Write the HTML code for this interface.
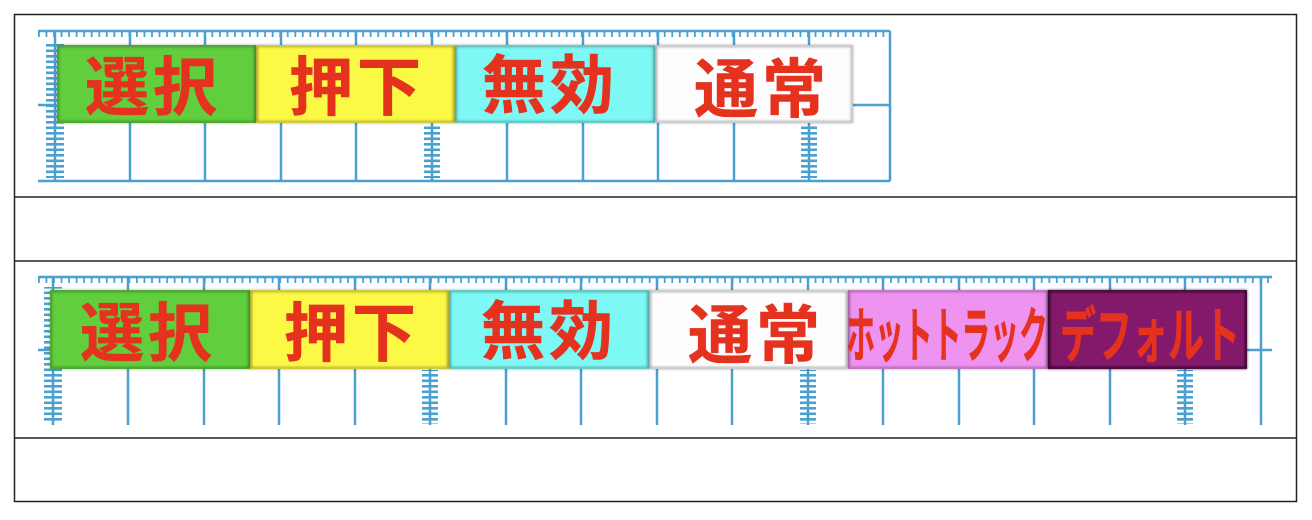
<!DOCTYPE html>
<html><head><meta charset="utf-8"><style>
body{margin:0;background:#fff;width:1312px;height:520px;overflow:hidden}
svg{display:block}
.k{font-family:"Liberation Sans","Noto Sans CJK JP",sans-serif;font-weight:bold;fill:#e5321f;stroke:#e5321f;stroke-width:0.6}
</style></head><body>
<svg width="1312" height="520" viewBox="0 0 1312 520" xmlns="http://www.w3.org/2000/svg">
<defs>
<pattern id="tk" x="38" y="0" width="7.54" height="10" patternUnits="userSpaceOnUse"><rect x="0" y="0" width="1.8" height="10" fill="#4aa0d0"/></pattern>
<pattern id="ld" x="0" y="0" width="20" height="5.5" patternUnits="userSpaceOnUse"><rect x="0" y="0" width="20" height="2.6" fill="#4aa0d0"/></pattern>
<filter id="sh"><feGaussianBlur stdDeviation="1.2"/></filter>
</defs>
<rect width="1312" height="520" fill="#fff"/>
<g fill="none" stroke="#222" stroke-width="1.5">
<rect x="14.5" y="14.5" width="1282" height="487"/>
<line x1="14" y1="197" x2="1297" y2="197"/>
<line x1="14" y1="261" x2="1297" y2="261"/>
<line x1="14" y1="438" x2="1297" y2="438"/>
</g>
<g stroke="#4aa0d0" stroke-width="2.5">
<rect x="38" y="31" width="852" height="6" fill="url(#tk)" stroke="none"/>
<line x1="38" y1="31" x2="890" y2="31"/>
<line x1="38" y1="181" x2="890" y2="181"/>
<line x1="55" y1="31" x2="55" y2="181"/>
<line x1="890" y1="31" x2="890" y2="181"/>
<line x1="38" y1="105" x2="55" y2="105"/>
<line x1="853" y1="105" x2="890" y2="105"/>
<line x1="130" y1="31" x2="130" y2="181"/><line x1="205" y1="31" x2="205" y2="181"/>
<line x1="281" y1="31" x2="281" y2="181"/><line x1="356" y1="31" x2="356" y2="181"/>
<line x1="432" y1="31" x2="432" y2="181"/><line x1="507" y1="31" x2="507" y2="181"/>
<line x1="583" y1="31" x2="583" y2="181"/><line x1="658" y1="31" x2="658" y2="181"/>
<line x1="734" y1="31" x2="734" y2="181"/><line x1="809" y1="31" x2="809" y2="181"/>
</g>
<rect x="46" y="42" width="18" height="136" fill="url(#ld)"/>
<rect x="424" y="124" width="16" height="54" fill="url(#ld)"/>
<rect x="801" y="124" width="16" height="54" fill="url(#ld)"/>
<rect x="57" y="45" width="199" height="78" fill="#61cf3d"/>
<rect x="256" y="45" width="199" height="78" fill="#fcf846"/>
<rect x="455" y="45" width="200" height="78" fill="#7ef8f4"/>
<rect x="655" y="45" width="198" height="78" fill="#fdfdfd"/>
<g fill="none" stroke="#000" stroke-opacity=".35" stroke-width="2" filter="url(#sh)">
<rect x="58" y="46" width="197" height="76"/><rect x="257" y="46" width="197" height="76"/>
<rect x="456" y="46" width="198" height="76"/><rect x="656" y="46" width="196" height="76"/>
</g>
<g class="k" font-size="64" text-anchor="middle" letter-spacing="4">
<text x="153" y="110">選択</text><text x="357" y="110">押下</text>
<text x="550" y="108">無効</text><text x="762" y="112">通常</text>
</g>
<g stroke="#4aa0d0" stroke-width="2.5">
<rect x="38" y="277" width="1234" height="6" fill="url(#tk)" stroke="none"/>
<line x1="38" y1="277" x2="1272" y2="277"/>
<line x1="53" y1="277" x2="53" y2="425"/>
<line x1="1261" y1="277" x2="1261" y2="425"/>
<line x1="38" y1="350" x2="53" y2="350"/>
<line x1="1247" y1="350" x2="1272" y2="350"/>
<line x1="128" y1="277" x2="128" y2="425"/><line x1="204" y1="277" x2="204" y2="425"/>
<line x1="279" y1="277" x2="279" y2="425"/><line x1="355" y1="277" x2="355" y2="425"/>
<line x1="430" y1="277" x2="430" y2="425"/><line x1="506" y1="277" x2="506" y2="425"/>
<line x1="581" y1="277" x2="581" y2="425"/><line x1="657" y1="277" x2="657" y2="425"/>
<line x1="732" y1="277" x2="732" y2="425"/><line x1="808" y1="277" x2="808" y2="425"/>
<line x1="883" y1="277" x2="883" y2="425"/><line x1="959" y1="277" x2="959" y2="425"/>
<line x1="1034" y1="277" x2="1034" y2="425"/><line x1="1110" y1="277" x2="1110" y2="425"/>
<line x1="1185" y1="277" x2="1185" y2="425"/>
</g>
<rect x="44" y="287" width="18" height="136" fill="url(#ld)"/>
<rect x="422" y="370" width="16" height="54" fill="url(#ld)"/>
<rect x="800" y="370" width="16" height="54" fill="url(#ld)"/>
<rect x="1177" y="370" width="16" height="54" fill="url(#ld)"/>
<rect x="50" y="290" width="200" height="79" fill="#61cf3d"/>
<rect x="250" y="290" width="199" height="79" fill="#fcf846"/>
<rect x="449" y="290" width="200" height="79" fill="#7ef8f4"/>
<rect x="649" y="290" width="199" height="79" fill="#fdfdfd"/>
<rect x="848" y="290" width="200" height="79" fill="#ef93f1"/>
<rect x="1048" y="290" width="199" height="79" fill="#84196b"/>
<g fill="none" stroke="#000" stroke-opacity=".35" stroke-width="2" filter="url(#sh)">
<rect x="51" y="291" width="198" height="77"/><rect x="251" y="291" width="197" height="77"/>
<rect x="450" y="291" width="198" height="77"/><rect x="650" y="291" width="197" height="77"/>
<rect x="849" y="291" width="198" height="77"/><rect x="1049" y="291" width="197" height="77" stroke-opacity=".8"/>
</g>
<g class="k" font-size="64" text-anchor="middle" letter-spacing="4">
<text x="148" y="356">選択</text><text x="352" y="356">押下</text>
<text x="549" y="354">無効</text><text x="756" y="358">通常</text>
</g>
<g class="k" font-size="60" text-anchor="middle" stroke-width="0.5">
<text transform="translate(947,357) scale(0.48,1)">ホットトラック</text>
<text transform="translate(1150,357) scale(0.6,1)">デフォルト</text>
</g>
</svg>
</body></html>
